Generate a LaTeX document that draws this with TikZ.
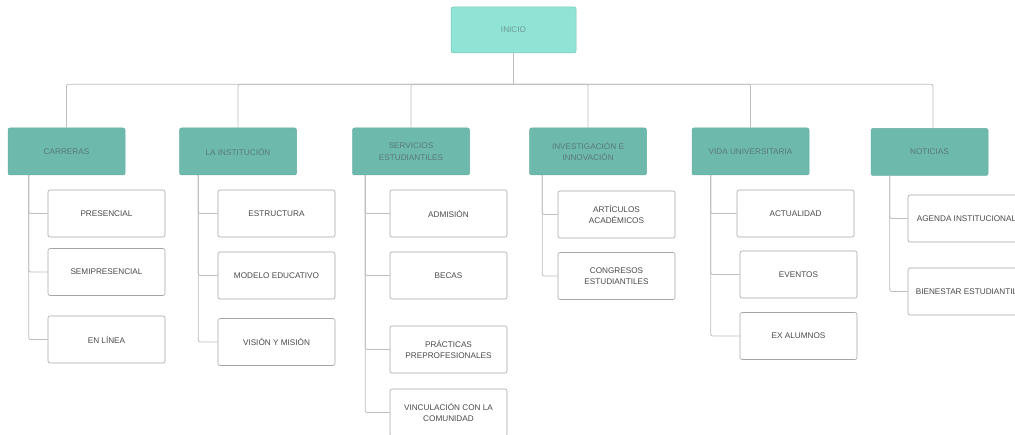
\documentclass[tikz,border=0pt]{standalone}
\usepackage{fontspec}
\setmainfont{Liberation Sans}
\usetikzlibrary{positioning}
\definecolor{toplight}{HTML}{8FE4D6}
\definecolor{catfill}{HTML}{6DB9AC}
\definecolor{catedge}{HTML}{65AFA2}
\definecolor{cattext}{HTML}{5A7A75}
\definecolor{toptext}{HTML}{6F9A92}
\definecolor{boxedge}{HTML}{A6A6A6}
\definecolor{boxtext}{HTML}{4A4A4A}
\definecolor{linegray}{HTML}{BDBDBD}
\begin{document}
\begin{tikzpicture}[x=1pt,y=-1pt,
  txt/.style={font=\fontsize{8.2}{11.5}\selectfont, align=center},
  topbox/.style={txt, draw=toplight!85!black, fill=toplight, text=toptext, rounded corners=2pt,
    minimum width=125pt, minimum height=46pt, inner sep=0pt, line width=0.5pt},
  catbox/.style={txt, draw=catedge, fill=catfill, text=cattext, rounded corners=2pt,
    minimum width=117pt, minimum height=47pt, inner sep=0pt, line width=0.5pt},
  leafbox/.style={txt, draw=boxedge, fill=white, text=boxtext, rounded corners=2pt,
    minimum width=117pt, minimum height=47pt, inner sep=0pt, line width=0.6pt},
  conn/.style={draw=linegray, line width=0.8pt, rounded corners=2pt}]
\useasboundingbox (0,0) rectangle (1015,435);
\clip (0,0) rectangle (1015,435);

% root
\node[topbox] (inicio) at (513.5,30) {INICIO};

% first level
\node[catbox] (carreras) at (66.5,151.5) {CARRERAS};
\node[catbox] (inst) at (238,151.5) {LA INSTITUCIÓN};
\node[catbox] (serv) at (411,151.5) {SERVICIOS\\ESTUDIANTILES};
\node[catbox] (inv) at (588,151.5) {INVESTIGACIÓN E\\INNOVACIÓN};
\node[catbox] (vida) at (750.5,151.5) {VIDA UNIVERSITARIA};
\node[catbox] (noti) at (929.5,152) {NOTICIAS};

% second level: carreras
\node[leafbox] (pres) at (106.5,213.5) {PRESENCIAL};
\node[leafbox] (semi) at (106.5,272) {SEMIPRESENCIAL};
\node[leafbox] (linea) at (106.5,339.5) {EN LÍNEA};
% la institucion
\node[leafbox] (estr) at (276.5,213.5) {ESTRUCTURA};
\node[leafbox] (mod) at (276.5,275.5) {MODELO EDUCATIVO};
\node[leafbox] (vis) at (276.5,342) {VISIÓN Y MISIÓN};
% servicios estudiantiles
\node[leafbox] (adm) at (448.5,213.5) {ADMISIÓN};
\node[leafbox] (becas) at (448.5,275.5) {BECAS};
\node[leafbox] (prac) at (448.5,349.5) {PRÁCTICAS\\PREPROFESIONALES};
\node[leafbox] (vinc) at (448.5,412.5) {VINCULACIÓN CON LA\\COMUNIDAD};
% investigacion
\node[leafbox] (art) at (616.5,214.5) {ARTÍCULOS\\ACADÉMICOS};
\node[leafbox] (cong) at (616.5,276) {CONGRESOS\\ESTUDIANTILES};
% vida universitaria
\node[leafbox] (act) at (795.5,213.5) {ACTUALIDAD};
\node[leafbox] (even) at (798.5,274.5) {EVENTOS};
\node[leafbox] (exal) at (798.5,336) {EX ALUMNOS};
% noticias
\node[leafbox] (agen) at (966.5,218.5) {AGENDA INSTITUCIONAL};
\node[leafbox] (bien) at (966.5,291.5) {BIENESTAR ESTUDIANTIL};

% root to first level
\draw[conn] (inicio.south) -- ++(0,31) coordinate (bus);
\foreach \c in {carreras,inst,serv,inv,vida}
  \draw[conn] (bus) -| (\c.north);
\draw[conn] (bus) -| ([xshift=3.5pt]noti.north);

% first level to second level
\foreach \p/\o/\kids in {carreras/21/{pres,semi,linea},
                        inst/19/{estr,mod,vis},
                        serv/13/{adm,becas,prac,vinc},
                        inv/13/{art,cong},
                        vida/19/{act,even,exal},
                        noti/19/{agen,bien}}
  \foreach \k in \kids
    \draw[conn] ([xshift=\o pt]\p.south west) |- (\k.west);
\end{tikzpicture}
\end{document}
